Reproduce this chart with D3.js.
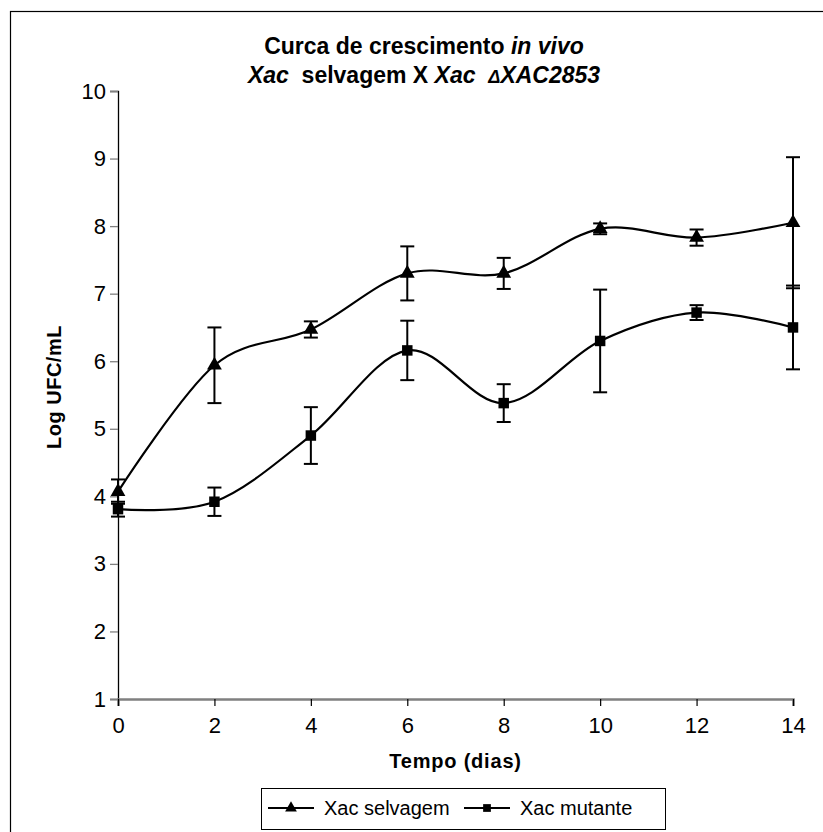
<!DOCTYPE html>
<html>
<head>
<meta charset="utf-8">
<script src="https://cdn.jsdelivr.net/npm/d3@7"></script>
<style>
  body { margin: 0; background: #fff; }
  svg { font-family: "Liberation Sans", Arial, sans-serif; }
</style>
</head>
<body>
<div id="chart"></div>
<script>
// days sampled
let days = [0, 2, 4, 6, 8, 10, 12, 14]
// Xac selvagem
let selvagem = [4.07, 5.94, 6.47, 7.30, 7.30, 7.96, 7.83, 8.05]
let selvagemErr = [0.18, 0.56, 0.12, 0.40, 0.23, 0.08, 0.12, 0.97]
// Xac mutante
let mutante = [3.81, 3.92, 4.90, 6.16, 5.38, 6.30, 6.72, 6.50]
let mutanteErr = [0.11, 0.21, 0.42, 0.44, 0.28, 0.76, 0.11, 0.62]
let yTicks = [1, 2, 3, 4, 5, 6, 7, 8, 9, 10]
let xTicks = [0, 2, 4, 6, 8, 10, 12, 14]

let width = 823
let height = 832
let margin = { top: 91, right: 30, bottom: 133, left: 118 }

let x = d3.scaleLinear()
    .domain([0, 14])
    .range([margin.left, width - margin.right])

let y = d3.scaleLinear()
    .domain([1, 10])
    .range([height - margin.bottom, margin.top])

let svg = d3.select('#chart')
    .append('svg')
    .attr('width', width)
    .attr('height', height)

// outer frame (runs off the right and bottom edges)
svg.append('rect')
    .attr('x', 10.5)
    .attr('y', 11.5)
    .attr('width', 840)
    .attr('height', 840)
    .attr('fill', 'none')
    .attr('stroke', '#000')
    .attr('stroke-width', 1.2)

// title
let title = svg.append('text')
    .attr('text-anchor', 'middle')
    .attr('font-weight', 700)
    .attr('font-size', '23px')
title.append('tspan').attr('x', 424).attr('y', 54).text('Curca de crescimento ')
title.append('tspan').attr('font-style', 'italic').text('in vivo')
let t2 = svg.append('text')
    .attr('text-anchor', 'middle')
    .attr('font-weight', 700)
    .attr('font-size', '23px')
    .attr('x', 424)
    .attr('y', 83)
    .attr('xml:space', 'preserve')
t2.append('tspan').attr('font-style', 'italic').text('Xac')
t2.append('tspan').text('  selvagem X ')
t2.append('tspan').attr('font-style', 'italic').text('Xac  ')
t2.append('tspan').attr('font-style', 'italic').attr('font-size', '18px').text('\u0394')
t2.append('tspan').attr('font-style', 'italic').text('XAC2853')

// axes
let yAxis = d3.axisLeft(y).tickValues(yTicks).tickSize(8).tickPadding(4)
let xAxis = d3.axisBottom(x).tickValues(xTicks).tickSize(7).tickPadding(11)

let gy = svg.append('g')
    .attr('transform', `translate(${margin.left},0)`)
    .call(yAxis)
gy.attr('font-size', null).attr('font-family', null)
gy.select('.domain').attr('stroke', '#000').attr('stroke-width', 1.3)
gy.selectAll('.tick line').attr('stroke', '#808080').attr('stroke-width', 1.3)
gy.selectAll('.tick text').style('font-size', '22px').attr('fill', '#000')

let gx = svg.append('g')
    .attr('transform', `translate(0,${y(1)})`)
    .call(xAxis)
gx.attr('font-size', null).attr('font-family', null)
gx.select('.domain').attr('stroke', '#808080').attr('stroke-width', 2.5)
gx.selectAll('.tick line').attr('stroke', '#000').attr('stroke-width', 1.2)
gx.selectAll('.tick text').style('font-size', '22px').attr('fill', '#000')

// axis titles
svg.append('text')
    .attr('transform', `translate(61,${(y(1) + y(10)) / 2 - 8}) rotate(-90)`)
    .attr('text-anchor', 'middle')
    .attr('font-weight', 700)
    .attr('font-size', '20px')
    .attr('letter-spacing', '0.5px')
    .text('Log UFC/mL')

svg.append('text')
    .attr('x', (x(0) + x(14)) / 2)
    .attr('y', 768)
    .attr('text-anchor', 'middle')
    .attr('font-weight', 700)
    .attr('font-size', '20px')
    .attr('letter-spacing', '0.8px')
    .text('Tempo (dias)')

let line = d3.line()
    .x(d => x(d[0]))
    .y(d => y(d[1]))
    .curve(d3.curveCardinal.tension(0))

let tri = d3.symbol().type(d3.symbolTriangle).size(95)
let sq = d3.symbol().type(d3.symbolSquare).size(110)

let drawSeries = (vals, errs, sym) => {
    let pts = days.map((d, i) => [d, vals[i], errs[i]])
    let g = svg.append('g')
    g.append('path')
        .datum(pts)
        .attr('d', line)
        .attr('fill', 'none')
        .attr('stroke', '#000')
        .attr('stroke-width', 2.2)

    let eb = g.selectAll('.err').data(pts).join('g').attr('class', 'err')
    eb.append('line')
        .attr('x1', d => x(d[0])).attr('x2', d => x(d[0]))
        .attr('y1', d => y(d[1] - d[2])).attr('y2', d => y(d[1] + d[2]))
        .attr('stroke', '#000').attr('stroke-width', 2)
    eb.append('line')
        .attr('x1', d => x(d[0]) - 7).attr('x2', d => x(d[0]) + 7)
        .attr('y1', d => y(d[1] + d[2])).attr('y2', d => y(d[1] + d[2]))
        .attr('stroke', '#000').attr('stroke-width', 2)
    eb.append('line')
        .attr('x1', d => x(d[0]) - 7).attr('x2', d => x(d[0]) + 7)
        .attr('y1', d => y(d[1] - d[2])).attr('y2', d => y(d[1] - d[2]))
        .attr('stroke', '#000').attr('stroke-width', 2)

    g.selectAll('.mk').data(pts).join('path')
        .attr('class', 'mk')
        .attr('d', sym)
        .attr('transform', d => `translate(${x(d[0])},${y(d[1])})`)
        .attr('fill', '#000')
}

drawSeries(selvagem, selvagemErr, tri)
drawSeries(mutante, mutanteErr, sq)

// legend
let legend = svg.append('g')
legend.append('rect')
    .attr('x', 261.5).attr('y', 788.5)
    .attr('width', 404).attr('height', 41)
    .attr('fill', '#fff')
    .attr('stroke', '#000')
    .attr('stroke-width', 1)

let legendItems = [
  { name: 'Xac selvagem', sym: d3.symbolTriangle, x0: 268 },
  { name: 'Xac mutante', sym: d3.symbolSquare, x0: 464 }
]
let li = legend.selectAll('.li').data(legendItems).join('g').attr('class', 'li')
li.append('line')
    .attr('x1', d => d.x0).attr('x2', d => d.x0 + 46)
    .attr('y1', 808).attr('y2', 808)
    .attr('stroke', '#000').attr('stroke-width', 2)
li.append('path')
    .attr('d', d => d3.symbol().type(d.sym).size(60)())
    .attr('transform', d => `translate(${d.x0 + 23},808)`)
li.append('text')
    .attr('x', d => d.x0 + 56)
    .attr('y', 815)
    .attr('font-size', '20px')
    .text(d => d.name)
</script>
</body>
</html>
